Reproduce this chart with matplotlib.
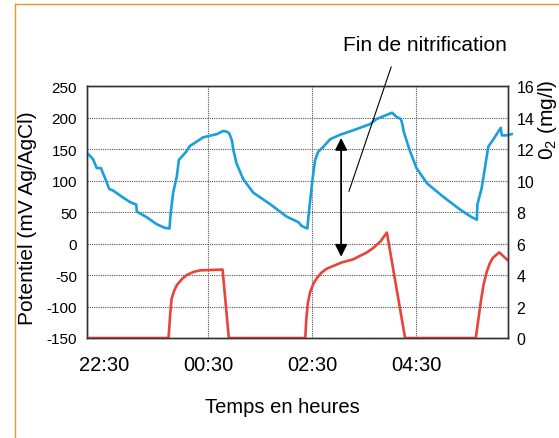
import matplotlib
matplotlib.use("Agg")
import matplotlib.pyplot as plt
from matplotlib.lines import Line2D

plt.rcParams['font.family'] = ['Liberation Sans', 'DejaVu Sans']
plt.rcParams['mathtext.default'] = 'regular'
plt.rcParams['axes.unicode_minus'] = False

# time in hours after 22:30
pot_t = [-0.30, -0.21, -0.14, -0.06, 0.02, 0.10, 0.18, 0.37, 0.50, 0.62, 0.63, 0.82,
         1.01, 1.17, 1.26, 1.28, 1.33, 1.40, 1.44, 1.58, 1.65, 1.91, 2.17, 2.29, 2.36,
         2.41, 2.46, 2.49, 2.55, 2.68, 2.87, 3.19, 3.51, 3.74, 3.80, 3.91, 3.95, 4.01,
         4.06, 4.12, 4.22, 4.35, 4.54, 4.79, 5.12, 5.24, 5.54, 5.63, 5.71, 5.74, 5.76,
         5.88, 6.01, 6.21, 6.53, 6.85, 7.07, 7.17, 7.18, 7.26, 7.29, 7.39, 7.49, 7.63,
         7.65, 7.74, 7.84]
pot_mv = [142, 134, 120, 120, 104, 87, 84, 73, 66, 62, 51, 42,
          31, 25, 24, 47, 81, 107, 133, 146, 155, 169, 174, 179, 178,
          175, 164, 148, 127, 102, 81, 63, 43, 34, 28, 24, 58, 102,
          133, 146, 154, 166, 173, 180, 190, 198, 208, 201, 198, 189, 179,
          148, 120, 96, 74, 54, 42, 38, 62, 87, 102, 154, 166, 184,
          172, 172, 174]

o2_t = [-0.33, 1.24, 1.26, 1.28, 1.30, 1.35, 1.40, 1.50, 1.59, 1.72, 1.85, 2.28, 2.40,
        3.87, 3.89, 3.92, 3.96, 4.02, 4.09, 4.18, 4.28, 4.57, 4.79, 5.05, 5.18, 5.32, 5.44,
        5.79, 7.15, 7.20, 7.25, 7.30, 7.36, 7.42, 7.48, 7.60, 7.78]
o2_mgl = [0, 0, 0.9, 1.8, 2.5, 3.0, 3.36, 3.75, 4.0, 4.2, 4.3, 4.35, 0,
          0, 1.2, 2.2, 2.87, 3.4, 3.8, 4.15, 4.4, 4.8, 5.0, 5.43, 5.73, 6.15, 6.7,
          0, 0, 1.2, 2.4, 3.4, 4.2, 4.75, 5.1, 5.44, 4.9]

tick_pos = [0, 2, 4, 6]
tick_lab = ['22:30', '00:30', '02:30', '04:30']

blue = '#1b9fdc'
red = '#e8443a'

fig = plt.figure(figsize=(5.59, 4.39), dpi=100)

# orange frame
fig.add_artist(Line2D([14.5/559, 14.5/559], [0, 1 - 5/439], color='#f7941d', lw=1))
fig.add_artist(Line2D([14.5/559, 1], [1 - 5/439, 1 - 5/439], color='#f7941d', lw=1))

ax = fig.add_axes([86.7/559, 100/439, 421.6/559, 251.7/439])
ax.plot(pot_t, pot_mv, color=blue, lw=1.9, clip_on=False, zorder=3)
ax.set_xlim(-0.333, 7.775)
ax.set_ylim(-150, 250)
ax.set_yticks(range(-150, 251, 50))
ax.set_xticks(tick_pos)
ax.set_xticklabels(tick_lab)
ax.grid(True, color='#555555', ls=(0, (1, 1)), lw=0.8)
ax.xaxis.get_gridlines()[0].set_visible(False)
ax.tick_params(axis='y', length=0, pad=7, labelsize=11)
ax.tick_params(axis='x', length=0, pad=12, labelsize=14.5)
for s in ax.spines.values():
    s.set_color('#333333')
    s.set_linewidth(1)
ax.set_ylabel('Potentiel (mV Ag/AgCl)', fontsize=15)
ax.yaxis.set_label_coords(-0.118, 0.48)
ax.set_xlabel('Temps en heures', fontsize=14.5)
ax.xaxis.set_label_coords(0.463, -0.235)

ax2 = ax.twinx()
ax2.plot(o2_t, o2_mgl, color=red, lw=1.9)
ax2.set_ylim(0, 16)
ax2.set_yticks(range(0, 17, 2))
ax2.tick_params(axis='y', length=0, pad=6, labelsize=11.5)
for s in ax2.spines.values():
    s.set_color('#333333')
    s.set_linewidth(1)
ax2.set_ylabel('0$_2$ (mg/l)', fontsize=15, rotation=90, ha='center', va='center')
ax2.yaxis.set_label_coords(1.093, 0.87)

# double arrow between the curves
ax.annotate('', xy=(4.56, 168), xytext=(4.56, -21),
            arrowprops=dict(arrowstyle='<|-|>', color='black', lw=1.3,
                            mutation_scale=18, shrinkA=0, shrinkB=0), zorder=5)
ax.annotate('Fin de nitrification', xy=(4.71, 83), xytext=(0.803, 1.168),
            textcoords='axes fraction', ha='center', va='center', fontsize=15,
            arrowprops=dict(arrowstyle='-', color='black', lw=0.8,
                            relpos=(0.32, 0.0), shrinkA=8, shrinkB=0),
            annotation_clip=False)

fig.savefig('out.png', dpi=100)
